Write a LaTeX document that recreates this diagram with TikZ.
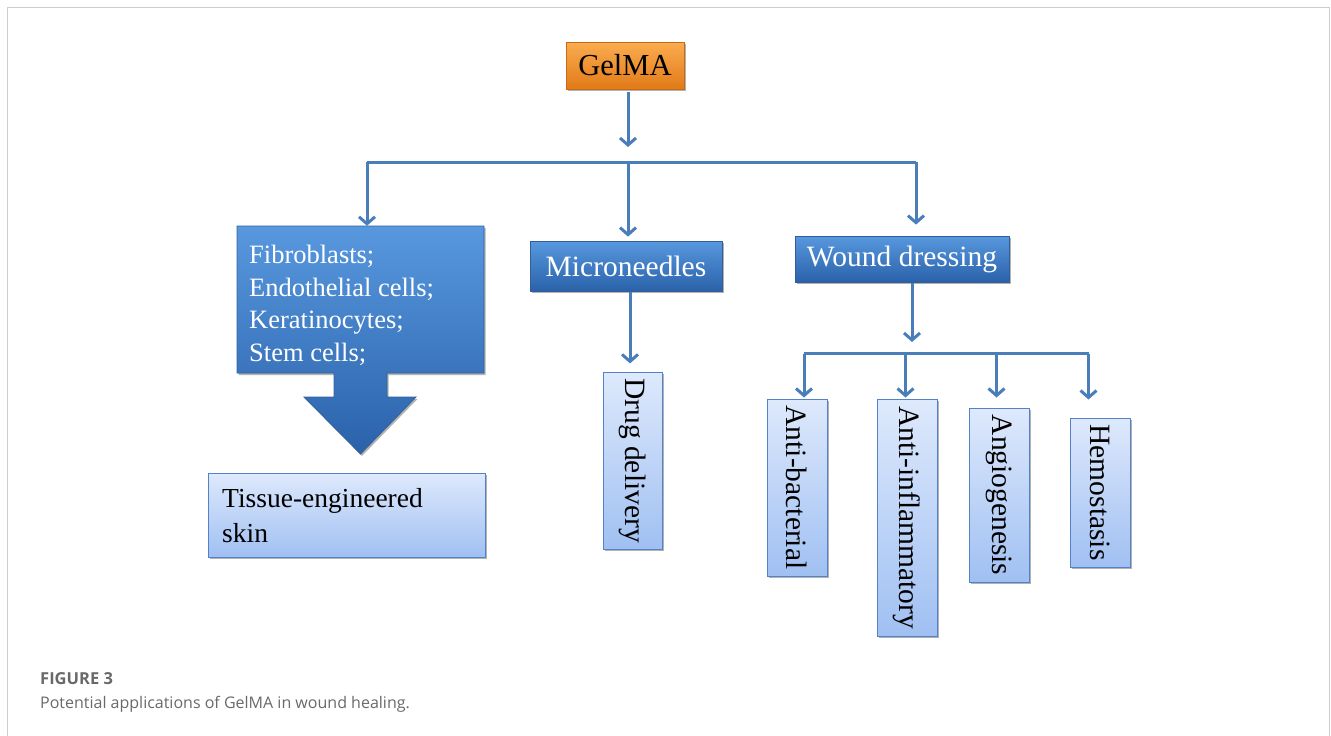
\documentclass[tikz,border=0pt]{standalone}
\usepackage{fontspec}
\setmainfont{Liberation Serif}
\newfontfamily\capfont{Open Sans}
\usetikzlibrary{arrows.meta,shadows}
\definecolor{arrowblue}{RGB}{74,126,187}
\definecolor{darktop}{RGB}{88,152,222}
\definecolor{darkbot}{RGB}{42,98,170}
\definecolor{darkedge}{RGB}{50,95,155}
\definecolor{lighttop}{RGB}{222,233,252}
\definecolor{lightbot}{RGB}{160,192,242}
\definecolor{lightedge}{RGB}{84,130,200}
\definecolor{orangetop}{RGB}{250,172,80}
\definecolor{orangebot}{RGB}{226,122,24}
\definecolor{orangeedge}{RGB}{200,105,20}
\definecolor{framegray}{RGB}{205,205,205}
\definecolor{capgray}{RGB}{105,105,105}
\tikzset{
  shad/.style={drop shadow={shadow xshift=1.5pt,shadow yshift=-2pt,opacity=0.3,fill=black}},
  darkbox/.style={shad,draw=darkedge,line width=0.8pt,top color=darktop,bottom color=darkbot,
    text=white,inner sep=0pt,font=\fontsize{29.5}{35}\selectfont},
  lightbox/.style={shad,draw=lightedge,line width=1pt,top color=lighttop,bottom color=lightbot,inner sep=0pt},
  orangebox/.style={shad,draw=orangeedge,line width=0.8pt,top color=orangetop,bottom color=orangebot,
    inner sep=0pt,font=\fontsize{30.5}{36}\selectfont},
  vtext/.style={rotate=-90,inner sep=0pt,font=\fontsize{29.5}{35}\selectfont},
  conn/.style={draw=arrowblue,line width=3pt,-{Straight Barb[length=7pt,width=16pt]}},
  bar/.style={draw=arrowblue,line width=3pt},
}
\begin{document}
\begin{tikzpicture}[x=1pt,y=-1pt]
\useasboundingbox (0,0) rectangle (1331,736);
% frame
\draw[framegray,line width=1pt] (7.5,736) -- (7.5,7.5) -- (1329.5,7.5) -- (1329.5,736);

% top node
\node[orangebox,minimum width=118pt,minimum height=47pt] (gelma) at (625,65.5) {GelMA};

% junctions
\coordinate (g1) at (628,147);
\coordinate (hl) at (367,162);
\coordinate (hm) at (628,162);
\coordinate (hr) at (916,162);

% cells callout
\coordinate (c1) at (237,226);
\path[shad,top color=darktop,bottom color=darkbot,draw=darkedge,line width=0.8pt]
  (237,226) -- (484,226) -- (484,373) -- (387,373) -- (387,397) -- (416,397) -- (360.5,454)
  -- (304,397) -- (334,397) -- (334,373) -- (237,373) -- cycle;
\node[minimum width=247pt,minimum height=147pt,inner sep=0pt] (cells) at (360.5,299.5) {};
\node[anchor=north west,inner sep=0pt,align=left,text=white,
  font=\fontsize{26.5}{32.5}\selectfont] (celltext) at (249,245)
  {Fibroblasts;\\Endothelial cells;\\Keratinocytes;\\Stem cells;};

\node[lightbox,minimum width=277pt,minimum height=84pt] (tissue) at (346.5,515) {};
\node[anchor=north west,inner sep=0pt,align=left,font=\fontsize{27.5}{35}\selectfont] (tissuetext)
  at (222,488) {Tissue-engineered\\skin};

% middle
\node[darkbox,minimum width=192pt,minimum height=50pt] (micro) at (626,266) {Microneedles};
\node[lightbox,minimum width=59pt,minimum height=177pt] (drug) at (632.5,460.5) {};
\node[vtext] at (drug) {Drug delivery};

% right
\node[darkbox,minimum width=214pt,minimum height=46pt] (wound) at (902,259) {Wound dressing};
\coordinate (w1) at (912,342);
\coordinate (h2l) at (804,353.5);
\coordinate (h2m) at (912,353.5);
\coordinate (h2r) at (1089,353.5);
\coordinate (b1) at (804,353.5);
\coordinate (b2) at (905.5,353.5);
\coordinate (b3) at (996.5,353.5);
\coordinate (b4) at (1088.5,353.5);

\node[lightbox,minimum width=60pt,minimum height=177pt] (antib) at (797,487.5) {};
\node[vtext] at (antib) {Anti-bacterial};
\node[lightbox,minimum width=60pt,minimum height=237pt] (antii) at (907,517.5) {};
\node[vtext] at (antii) {Anti-inflammatory};
\node[lightbox,minimum width=60pt,minimum height=174pt] (angio) at (999,495) {};
\node[vtext] at (angio) {Angiogenesis};
\node[lightbox,minimum width=60pt,minimum height=149pt] (hemo) at (1100,492.5) {};
\node[vtext] at (hemo) {Hemostasis};

% connectors
\draw[conn] (gelma.south -| g1) ++(0,3) -- (g1);
\draw[bar] (hl) -- (hr);
\draw[conn] (hl) -- (hl |- cells.north);
\draw[conn,shorten >=4pt] (hm) -- (hm |- micro.north);
\draw[conn,shorten >=11pt] (hr) -- (hr |- wound.north);
\draw[conn,shorten >=8pt] (micro.south -| drug.north) ++(-2.5,1) -- ++(0,79);
\draw[conn] (wound.south -| w1) ++(0,1) -- (w1);
\draw[bar] (h2l) -- (h2r);
\draw[conn,shorten >=1pt] (b1) -- (b1 |- antib.north);
\draw[conn,shorten >=1pt] (b2) -- (b2 |- antii.north);
\draw[conn,shorten >=10pt] (b3) -- (b3 |- angio.north);
\draw[conn,shorten >=18pt] (b4) -- (b4 |- hemo.north);

% caption
\node[anchor=base west,inner sep=0pt,text=capgray,font=\capfont\bfseries\fontsize{16.5}{20}\selectfont] (fig) at (40,684) {FIGURE 3};
\node[anchor=base west,inner sep=0pt,text=capgray,font=\capfont\fontsize{16}{20}\selectfont] (cap) at (40,708) {Potential applications of GelMA in wound healing.};
\end{tikzpicture}
\end{document}
